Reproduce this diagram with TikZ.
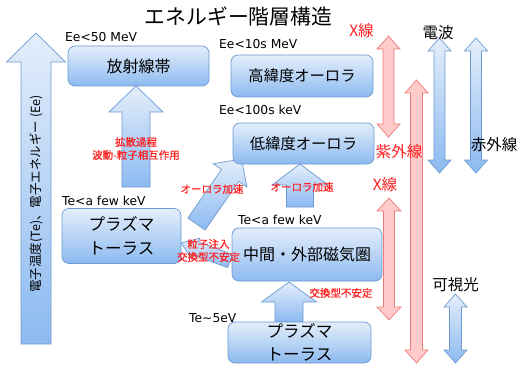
\documentclass[tikz,border=0pt]{standalone}
\usepackage{fontspec}
\setmainfont{Noto Sans CJK JP}
\newfontfamily\dejavu{DejaVu Sans}
\newfontfamily\cjkbold{Noto Sans CJK JP}[FakeBold=0.8]
\usetikzlibrary{calc}
\definecolor{btop}{HTML}{E4EEFB}
\definecolor{bbot}{HTML}{8CBAF0}
\definecolor{bline}{HTML}{6B9BD2}
\definecolor{rfill}{HTML}{FFCACA}
\definecolor{rline}{HTML}{EE7B7B}
\definecolor{rtext}{HTML}{FF1E1E}
\newcommand\fsz[2]{\fontsize{#1}{#2}\selectfont}
% single block arrow: #2 tail, #3 tip, #4 half shaft, #5 half head, #6 head length
\newcommand\blockarr[6][]{%
  \coordinate (bneck) at ($(#3)!#6!(#2)$);
  \path[#1] ($(#2)!#4!90:(#3)$) -- ($(bneck)!#4!90:(#3)$) -- ($(bneck)!#5!90:(#3)$) -- (#3)
     -- ($(bneck)!#5!-90:(#3)$) -- ($(bneck)!#4!-90:(#3)$) -- ($(#2)!#4!-90:(#3)$) -- cycle;}
% double block arrow
\newcommand\dblarr[6][]{%
  \coordinate (dna) at ($(#2)!#6!(#3)$);
  \coordinate (dnb) at ($(#3)!#6!(#2)$);
  \path[#1] (#2) -- ($(dna)!#5!90:(#3)$) -- ($(dna)!#4!90:(#3)$) -- ($(dnb)!#4!90:(#3)$)
     -- ($(dnb)!#5!90:(#3)$) -- (#3) -- ($(dnb)!#5!-90:(#3)$) -- ($(dnb)!#4!-90:(#3)$)
     -- ($(dna)!#4!-90:(#3)$) -- ($(dna)!#5!-90:(#3)$) -- cycle;}
\tikzset{
  barrow/.style={draw=bline, line width=0.7pt, top color=btop, bottom color=bbot},
  rarrow/.style={draw=rline, line width=0.7pt, fill=rfill},
  box/.style={draw=bline, line width=0.7pt, rounded corners=7pt, top color=btop, bottom color=bbot, inner sep=0pt},
  boxtxt/.style={align=center, inner sep=0pt},
  lbl/.style={anchor=base west, inner sep=0pt, font=\dejavu\fsz{12.3}{14}},
  rtxt/.style={text=rtext, align=center, inner sep=0pt, font=\cjkbold\fsz{10.5}{13}},
  side/.style={inner sep=0pt, font=\fsz{15.5}{18}},
}
\begin{document}
\begin{tikzpicture}[x=1pt,y=-1pt]
\useasboundingbox (0,0) rectangle (518,366);
% title
\node[inner sep=0pt, font=\fsz{20.8}{24}] (title) at (238.5,16.5) {エネルギー階層構造};
% left big arrow
\coordinate (Lb) at (36,344); \coordinate (Lt) at (36,33);
\blockarr[barrow]{Lb}{Lt}{15pt}{29.5pt}{29pt}
\node[rotate=90, inner sep=0pt, font=\fsz{12.5}{14}] (axis) at (36,194) {電子温度(Te)、電子エネルギー (Ee)};
% inner block arrows
\coordinate (a1s) at (136,187); \coordinate (a1t) at (136,86);
\blockarr[barrow]{a1s}{a1t}{14pt}{27pt}{26pt}
\coordinate (a2s) at (196.5,224); \coordinate (a2t) at (241.5,159);
\blockarr[barrow]{a2s}{a2t}{10.5pt}{20.5pt}{20pt}
\coordinate (a3s) at (300,207); \coordinate (a3t) at (300,164);
\blockarr[barrow]{a3s}{a3t}{13.5pt}{28pt}{21pt}
\coordinate (a4s) at (289,322); \coordinate (a4t) at (289,282);
\blockarr[barrow]{a4s}{a4t}{14pt}{27.5pt}{20pt}
\coordinate (a5s) at (230,261); \coordinate (a5t) at (181,243);
\blockarr[barrow]{a5s}{a5t}{7pt}{11pt}{16pt}
% boxes
\node[box, minimum width=141pt, minimum height=40pt] (rb) at (138.5,66) {};
\node[boxtxt, font=\fsz{16}{18}] (rbt) at (rb.center) {放射線帯};
\node[box, minimum width=142pt, minimum height=42pt] (ha) at (302,76) {};
\node[boxtxt, font=\fsz{15.3}{18}] (hat) at (ha.center) {高緯度オーロラ};
\node[box, minimum width=141pt, minimum height=41pt] (la) at (303.5,143.5) {};
\node[boxtxt, font=\fsz{15.3}{18}] (lat) at (la.center) {低緯度オーロラ};
\node[box, minimum width=119pt, minimum height=55pt] (pt1) at (121.5,236) {};
\node[boxtxt, font=\fsz{16.5}{24}] (pt1t) at (pt1.center) {プラズマ\\トーラス};
\node[box, minimum width=150pt, minimum height=53pt] (mm) at (307,254.5) {};
\node[boxtxt, font=\fsz{16}{18}] (mmt) at (mm.center) {中間・外部磁気圏};
\node[box, minimum width=143pt, minimum height=41pt] (pt2) at (299.5,342.5) {};
\node[boxtxt, font=\fsz{16.5}{23}] (pt2t) at (pt2.center) {プラズマ\\トーラス};
% energy labels
\node[lbl] (e1) at (65,42) {Ee<50 MeV};
\node[lbl] (e2) at (219,49) {Ee<10s MeV};
\node[lbl] (e3) at (219,115) {Ee<100s keV};
\node[lbl] (e4) at (62,205) {Te<a few keV};
\node[lbl] (e5) at (238,224) {Te<a few keV};
\node[lbl] (e6) at (189,322) {Te\textasciitilde5eV};
% red process texts
\node[rtxt] (r1) at (136,148.5) {拡散過程\\波動-粒子相互作用};
\node[rtxt] (r2) at (212,189) {オーロラ加速};
\node[rtxt] (r3) at (302,187) {オーロラ加速};
\node[rtxt] (r4) at (208.5,250.5) {粒子注入\\交換型不安定};
\node[rtxt] (r5) at (341,293) {交換型不安定};
% right double arrows
\coordinate (R1a) at (388.5,36); \coordinate (R1b) at (388.5,137);
\dblarr[rarrow]{R1a}{R1b}{5.5pt}{11.5pt}{13pt}
\coordinate (R2a) at (416.5,80); \coordinate (R2b) at (416.5,363);
\dblarr[rarrow]{R2a}{R2b}{6pt}{11.5pt}{13pt}
\coordinate (R3a) at (389,198); \coordinate (R3b) at (389,320);
\dblarr[rarrow]{R3a}{R3b}{5.5pt}{12pt}{13pt}
\coordinate (B1a) at (439.5,38); \coordinate (B1b) at (439.5,173);
\dblarr[barrow]{B1a}{B1b}{5.5pt}{11.5pt}{13pt}
\coordinate (B2a) at (476,38); \coordinate (B2b) at (476,173);
\dblarr[barrow]{B2a}{B2b}{5.5pt}{11.5pt}{13pt}
\coordinate (B3a) at (455.5,294); \coordinate (B3b) at (455.5,363);
\dblarr[barrow]{B3a}{B3b}{6pt}{11.5pt}{13pt}
% right labels
\node[side, text=rtext] (x1) at (361.5,31) {X線};
\node[side, text=rtext] (uv) at (399,152) {紫外線};
\node[side, text=rtext] (x2) at (385,185) {X線};
\node[side] (radio) at (438,33) {電波};
\node[side] (ir) at (494,145) {赤外線};
\node[side] (vis) at (455.5,285) {可視光};
\end{tikzpicture}
\end{document}
